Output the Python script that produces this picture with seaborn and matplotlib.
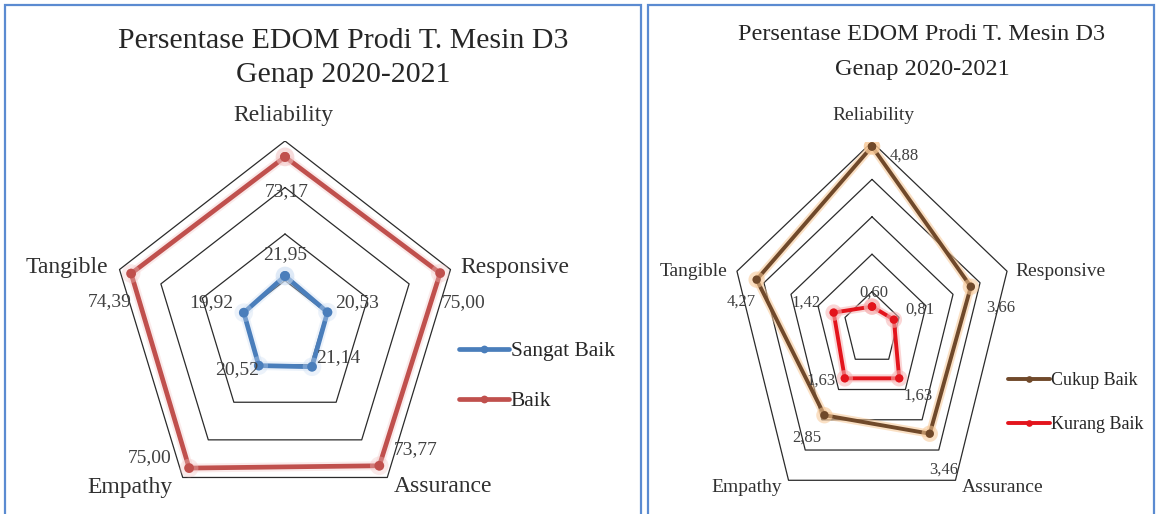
import numpy as np
import pandas as pd
import matplotlib
matplotlib.use("Agg")
import matplotlib.pyplot as plt
import matplotlib.patheffects as pe
from matplotlib.lines import Line2D
from matplotlib.patches import Rectangle
import seaborn as sns

# data
categories = ["Reliability", "Responsive", "Assurance", "Empathy", "Tangible"]
sangat_baik = [21.95, 20.53, 21.14, 20.52, 19.92]
baik = [73.17, 75.00, 73.77, 75.00, 74.39]
cukup_baik = [4.88, 3.66, 3.46, 2.85, 4.27]
kurang_baik = [0.60, 0.81, 1.63, 1.63, 1.42]
left_rings = [20, 40, 60, 80]
right_rings = [1, 2, 3, 4, 5]
title_lines = ["Persentase EDOM Prodi T. Mesin D3", "Genap 2020-2021"]

W, H = 1158, 514
sns.set_theme(style="white")
plt.rcParams["font.family"] = ["Liberation Serif", "DejaVu Serif"]

fig = plt.figure(figsize=(W / 100, H / 100), dpi=100)
angles = np.linspace(0, 2 * np.pi, len(categories), endpoint=False)


def fx(x):
    return x / W


def fy(y):
    return 1 - y / H


def polar_xy(values):
    v = np.asarray(values, float)
    v = np.append(v, v[0])
    a = np.append(angles, angles[0])
    return v * np.sin(a), v * np.cos(a)


def radar(cfg):
    cx, cy, rx, ry = cfg["center"]
    vmax = cfg["rings"][-1]
    ax = fig.add_axes([fx(cx - rx), fy(cy + ry), 2 * rx / W, 2 * ry / H])
    ax.axis("off")

    for r in cfg["rings"]:
        gx, gy = polar_xy([r] * len(categories))
        ax.plot(gx, gy, color="#2b2b2b", lw=0.9, zorder=1)

    rows = []
    for name, vals in cfg["series"].items():
        px, py = polar_xy(vals)
        for i, (a, b) in enumerate(zip(px, py)):
            rows.append({"series": name, "order": i, "x": a, "y": b})
    df = pd.DataFrame(rows)
    sns.lineplot(data=df, x="x", y="y", hue="series", sort=False, estimator=None,
                 palette=cfg["colors"], marker="o", markersize=cfg["ms"],
                 markeredgewidth=0, linewidth=cfg["lw"], legend=False, ax=ax, zorder=3)
    for line, glow in zip(ax.lines[-len(cfg["series"]):], cfg["glow"]):
        line.set_path_effects([pe.Stroke(linewidth=cfg["lw"] + 3, foreground=glow,
                                         alpha=cfg["glow_alpha"]),
                               pe.Normal()])
    ax.set_xlim(-vmax, vmax)
    ax.set_ylim(-vmax, vmax)

    # data labels
    for (name, vals), offs in zip(cfg["series"].items(), cfg["offsets"]):
        px, py = polar_xy(vals)
        for k, v in enumerate(vals):
            ox, oy = offs[k]
            ax.annotate(f"{v:.2f}".replace(".", ","), (px[k], py[k]),
                        xytext=(ox * 0.72, -oy * 0.72), textcoords="offset points",
                        ha="center", va="center", fontsize=cfg["fs_val"],
                        color="#404040", zorder=5, annotation_clip=False)

    # category labels
    for cat, (lx, ly) in zip(categories, cfg["cat_pos"]):
        fig.text(fx(lx), fy(ly), cat, ha="center", va="center",
                 fontsize=cfg["fs_cat"], color="#303030")

    # title, two lines placed separately
    tx = cfg["title_x"]
    for line, ty in zip(title_lines, cfg["title_y"]):
        fig.text(fx(tx), fy(ty), line, ha="center", va="center",
                 fontsize=cfg["fs_title"], color="#262626")

    # legend
    handles = [Line2D([], [], color=c, lw=cfg["lw"], marker="o", ms=cfg["ms"] * 0.8,
                      markeredgewidth=0)
               for c in cfg["colors"].values()]
    lx, ly = cfg["legend_pos"]
    fig.legend(handles, list(cfg["series"].keys()), loc="upper left",
               bbox_to_anchor=(fx(lx), fy(ly)), frameon=False, fontsize=cfg["fs_leg"],
               handlelength=cfg["handlelength"], handletextpad=0.1,
               labelspacing=cfg["labelspacing"], borderpad=0, borderaxespad=0)


left = {
    "center": (285, 327, 174, 186),
    "rings": left_rings,
    "series": {"Sangat Baik": sangat_baik, "Baik": baik},
    "colors": {"Sangat Baik": "#4a7ebb", "Baik": "#c0504d"},
    "glow": ["#c9dcf2", "#f3c4c3"], "glow_alpha": 0.35,
    "lw": 3.4, "ms": 7,
    "offsets": [[(0, -21), (30, -10), (26, -9), (-22, 4), (-33, -10)],
                [(2, 35), (23, 29), (36, -16), (-39, -10), (-21, 28)]],
    "fs_val": 14, "fs_cat": 17, "fs_title": 21.5, "fs_leg": 15.5,
    "cat_pos": [(283, 115), (515, 268), (443, 487), (130, 487), (67, 268)],
    "title_x": 343, "title_y": [41, 75],
    "legend_pos": (459, 341),
    "handlelength": 2.3, "labelspacing": 1.4,
}

right = {
    "center": (872, 329, 142, 187),
    "rings": right_rings,
    "series": {"Cukup Baik": cukup_baik, "Kurang Baik": kurang_baik},
    "colors": {"Cukup Baik": "#70492a", "Kurang Baik": "#e3141c"},
    "glow": ["#f7c795", "#f6b3b3"], "glow_alpha": 0.55,
    "lw": 2.8, "ms": 6,
    "offsets": [[(32, 9), (30, 21), (14, 36), (-18, 22), (-15, 22)],
                [(2, -14), (26, -10), (19, 17), (-24, 2), (-28, -10)]],
    "fs_val": 12, "fs_cat": 14, "fs_title": 17.5, "fs_leg": 13,
    "cat_pos": [(873, 115), (1060, 272), (1003, 488), (747, 488), (694, 272)],
    "title_x": 922, "title_y": [34, 70],
    "legend_pos": (1008, 372),
    "handlelength": 2.3, "labelspacing": 1.5,
}

radar(left)
radar(right)

# panel frames
for x0, x1 in [(5, 641), (648, 1154)]:
    fig.patches.append(Rectangle((fx(x0), fy(530)), (x1 - x0) / W, (530 - 5) / H,
                                 transform=fig.transFigure, fill=False,
                                 edgecolor="#5b8bd1", lw=1.6, zorder=0))

plt.savefig("out.png", dpi=100)
plt.close()
